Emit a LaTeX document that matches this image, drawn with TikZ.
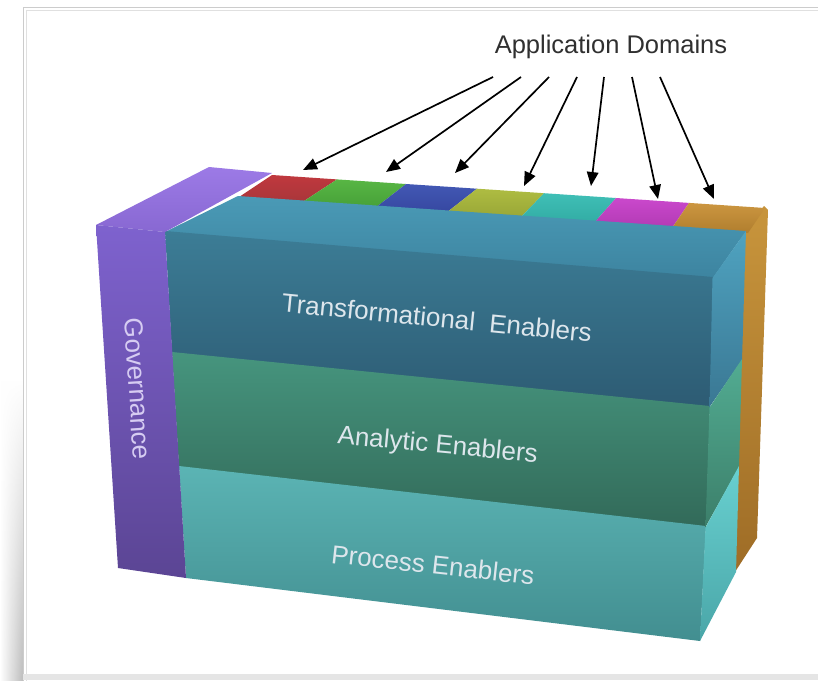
\documentclass[tikz,border=0pt]{standalone}
\usepackage{fontspec}
\setmainfont{Liberation Sans}
\usetikzlibrary{arrows.meta,fadings}
\definecolor{labelc}{HTML}{DDE6EC}
\definecolor{govc}{HTML}{D6CCF2}
\definecolor{titlec}{HTML}{303030}
\definecolor{orsideT}{HTML}{C8953C}\definecolor{orsideB}{HTML}{9E6C26}
\definecolor{redT}{HTML}{C0383E}\definecolor{redB}{HTML}{A8363A}
\definecolor{grnT}{HTML}{58B644}\definecolor{grnB}{HTML}{46A038}
\definecolor{bluT}{HTML}{4258B4}\definecolor{bluB}{HTML}{3647A0}
\definecolor{ylwT}{HTML}{AEBC42}\definecolor{ylwB}{HTML}{98A636}
\definecolor{cynT}{HTML}{3FBFB6}\definecolor{cynB}{HTML}{32ACA4}
\definecolor{magT}{HTML}{CA48CC}\definecolor{magB}{HTML}{B23AB4}
\definecolor{orgT}{HTML}{CC9640}\definecolor{orgB}{HTML}{B07E2E}
\definecolor{topT}{HTML}{4A9AB6}\definecolor{topB}{HTML}{3D84A0}
\definecolor{trfT}{HTML}{3C7D96}\definecolor{trfB}{HTML}{2D5B73}
\definecolor{anfT}{HTML}{46957E}\definecolor{anfB}{HTML}{326A59}
\definecolor{prfT}{HTML}{5BB4B4}\definecolor{prfB}{HTML}{428E90}
\definecolor{trsT}{HTML}{4FA3C0}\definecolor{trsB}{HTML}{3A7793}
\definecolor{ansT}{HTML}{52AC92}\definecolor{ansB}{HTML}{3C7F6A}
\definecolor{prsT}{HTML}{68D0D0}\definecolor{prsB}{HTML}{4AA6A8}
\definecolor{gvtT}{HTML}{9C7AE6}\definecolor{gvtB}{HTML}{8868D2}
\definecolor{gvfT}{HTML}{7E62CE}\definecolor{gvfB}{HTML}{5B4594}
\tikzfading[name=shadowfade, top color=transparent!100, bottom color=transparent!0]
\begin{document}
\begin{tikzpicture}[x=1pt,y=-1pt,
  lbl/.style={font=\fontsize{26}{31}\selectfont, text=labelc, inner sep=0pt, anchor=base},
  domarrow/.style={line width=1.7pt, draw=black, -{Triangle[length=14pt,width=11.5pt]}},
  face/.style={draw=none}]
\useasboundingbox (0,0) rectangle (818,680);
\clip (0,0) rectangle (818,680);
\fill[white] (0,0) rectangle (818,680);
% frame and shadow
\shade[left color=white, right color=black!26, path fading=shadowfade] (0,380) rectangle (23,680);
\draw[black!20, line width=1.6pt] (23.5,840) -- (23.5,7.5) -- (840,7.5);
\draw[black!12, line width=1pt] (26,840) -- (26,10) -- (840,10);
\fill[black!10] (23,674) rectangle (818,680);

% back slab: orange right face
\shade[face, top color=orsideT, bottom color=orsideB] (740,235) -- (764,206) -- (768,210) -- (757,538) -- (733,575) -- cycle;

% coloured application-domain cells (top of back slab)
\shade[face, top color=redT, bottom color=redB] (272,175) -- (337,179.4) -- (301,203) -- (236,199) -- cycle;
\shade[face, top color=grnT, bottom color=grnB] (337,179.4) -- (406,184) -- (375,208) -- (301,203) -- cycle;
\shade[face, top color=bluT, bottom color=bluB] (406,184) -- (477,188.7) -- (446,213) -- (375,208) -- cycle;
\shade[face, top color=ylwT, bottom color=ylwB] (477,188.7) -- (544,193.2) -- (520,218) -- (446,213) -- cycle;
\shade[face, top color=cynT, bottom color=cynB] (544,193.2) -- (616,198) -- (594,223) -- (520,218) -- cycle;
\shade[face, top color=magT, bottom color=magB] (616,198) -- (689,202.9) -- (672,228) -- (594,223) -- cycle;
\shade[face, top color=orgT, bottom color=orgB] (689,202.9) -- (765,208) -- (748,233) -- (672,228) -- cycle;

% enabler stack: top face
\shade[face, top color=topT, bottom color=topB] (165,232) -- (238,196) -- (746,231) -- (713,278) -- cycle;
% front faces
\shade[face, top color=trfT, bottom color=trfB] (165,231) -- (713,277) -- (710,407) -- (172,353) -- cycle;
\shade[face, top color=anfT, bottom color=anfB] (172,352) -- (710,406) -- (706,527) -- (179,467) -- cycle;
\shade[face, top color=prfT, bottom color=prfB] (179,466) -- (706,526) -- (700,641) -- (186,578) -- cycle;
% side faces
\shade[face, top color=trsT, bottom color=trsB] (712.5,278) -- (746,231) -- (742,360) -- (709.5,407) -- cycle;
\shade[face, top color=ansT, bottom color=ansB] (709.5,407.5) -- (742,359) -- (739,467) -- (705.5,527) -- cycle;
\shade[face, top color=prsT, bottom color=prsB] (705.5,527.5) -- (739,466) -- (736,572) -- (700,641) -- cycle;

% governance bar
\shade[face, top color=gvtT, bottom color=gvtB] (96,225) -- (209,167) -- (272,173) -- (165,232) -- cycle;
\shade[face, top color=gvfT, bottom color=gvfB] (96,225) -- (165,232) -- (186,578) -- (118,568) -- cycle;

% labels
\node[lbl, text=govc, anchor=center, rotate=-86.3] (gov) at (138,389) {Governance};
\node[lbl, rotate=-5.6] (trans) at (436,327) {Transformational\ \ Enablers};
\node[lbl, rotate=-5.4] (anal) at (437,453) {Analytic Enablers};
\node[lbl, rotate=-6.2] (proc) at (432,574) {Process Enablers};
\node[font=\fontsize{25.5}{30}\selectfont, text=titlec, inner sep=0pt, anchor=base] (dom) at (611,53) {Application Domains};

% arrows
\coordinate (s1) at (493,77); \coordinate (t1) at (303,170);
\coordinate (s2) at (521,77); \coordinate (t2) at (386,172);
\coordinate (s3) at (549,77); \coordinate (t3) at (455,173);
\coordinate (s4) at (577,77); \coordinate (t4) at (524,186);
\coordinate (s5) at (604,77); \coordinate (t5) at (591,186);
\coordinate (s6) at (632,77); \coordinate (t6) at (658,199);
\coordinate (s7) at (660,77); \coordinate (t7) at (714,199);
\foreach \i in {1,...,7} { \draw[domarrow] (s\i) -- (t\i); }
\end{tikzpicture}
\end{document}
